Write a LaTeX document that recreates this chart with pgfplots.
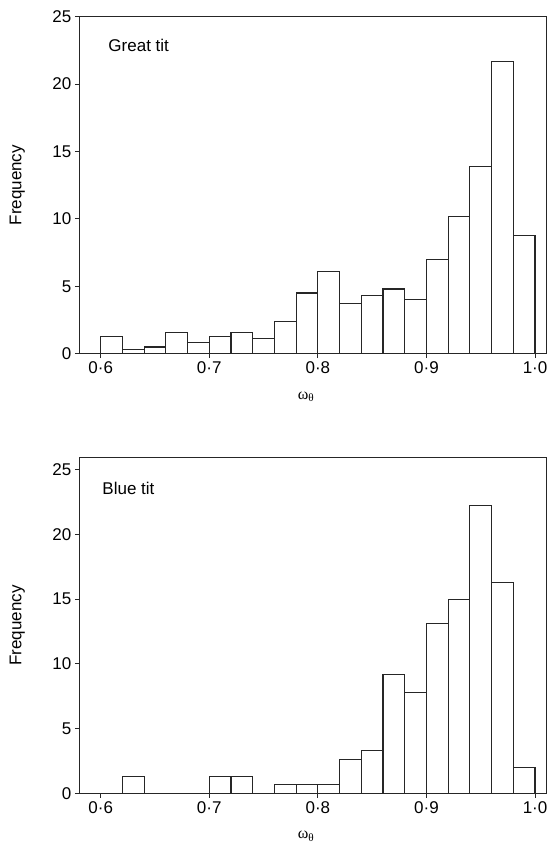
\documentclass[border=0pt]{standalone}
\usepackage{fontspec}
\setmainfont{Liberation Sans}
\newfontfamily\serifgr{Liberation Serif}
\usepackage{pgfplots}
\pgfplotsset{compat=1.18}

\pgfplotsset{histo/.style={
  scale only axis, width=466.7pt, xmin=0.5803, xmax=1.0101, ymin=0,
  axis line style={line width=1pt, black!85},
  tick align=outside, tick pos=left, major tick length=4.5pt,
  tick style={line width=1pt, black!85},
  xtick={0.6,0.7,0.8,0.9,1.0}, xticklabels={0·6,0·7,0·8,0·9,1·0},
  ytick={0,5,10,15,20,25},
  /pgf/number format/assume math mode=true,
  ticklabel style={font=\fontsize{17}{17}\selectfont},
  every axis y label/.style={at={(axis description cs:-0.133,0.5)},anchor=center,rotate=90,font=\fontsize{17}{17}\selectfont},
  every axis x label/.style={at={(axis description cs:0.486,0)},yshift=-43pt,anchor=center},
  ylabel={Frequency},
  xlabel={\serifgr\fontsize{16}{16}\selectfont ω\textsubscript{θ}},
}}

\begin{document}
\begin{tikzpicture}
\useasboundingbox (0,0) rectangle (548pt,856pt);
% Great tit
\begin{axis}[histo, at={(79.3pt,502.3pt)}, anchor=south west, height=337pt, ymax=25]
\addplot[ybar interval, draw=black!85, fill=white, line width=1.1pt] coordinates {
(0.60,1.3)(0.62,0.3)(0.64,0.5)(0.66,1.6)(0.68,0.8)(0.70,1.3)(0.72,1.6)(0.74,1.1)(0.76,2.4)(0.78,4.5)
(0.80,6.1)(0.82,3.7)(0.84,4.3)(0.86,4.8)(0.88,4.0)(0.90,7.0)(0.92,10.2)(0.94,13.9)(0.96,21.7)(0.98,8.8)(1.00,0)};
\node[anchor=west,font=\fontsize{17}{17}\selectfont] at (axis description cs:0.055,0.916) {Great tit};
\end{axis}
% Blue tit
\begin{axis}[histo, at={(79.3pt,62.7pt)}, anchor=south west, height=335.8pt, ymax=25.94]
\addplot[ybar interval, draw=black!85, fill=white, line width=1.1pt] coordinates {
(0.60,0)(0.62,1.3)(0.64,0)(0.66,0)(0.68,0)(0.70,1.3)(0.72,1.3)(0.74,0)(0.76,0.7)(0.78,0.7)
(0.80,0.7)(0.82,2.6)(0.84,3.3)(0.86,9.2)(0.88,7.8)(0.90,13.1)(0.92,15.0)(0.94,22.2)(0.96,16.3)(0.98,2.0)(1.00,0)};
\node[anchor=west,font=\fontsize{17}{17}\selectfont] at (axis description cs:0.042,0.909) {Blue tit};
\end{axis}
\end{tikzpicture}
\end{document}
